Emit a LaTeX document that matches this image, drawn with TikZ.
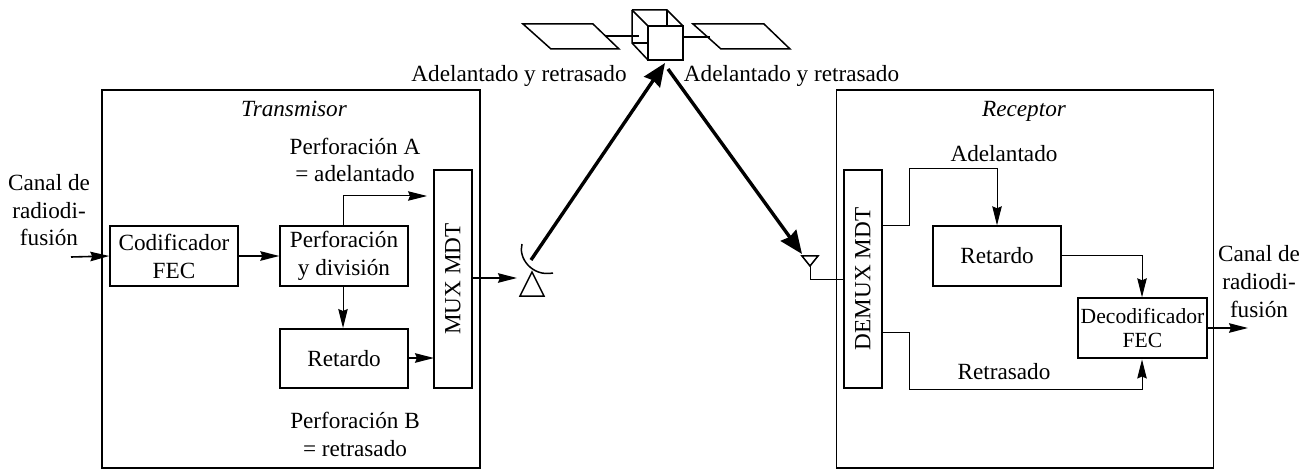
\documentclass[tikz,border=0pt]{standalone}
\usepackage{fontspec}
\setmainfont{Liberation Serif}
\usetikzlibrary{arrows.meta}
\tikzset{
 x=1pt,y=-1pt,
 blk/.style={draw,line width=1.4pt,inner sep=0pt,align=center,font=\fontsize{23.2}{28}\selectfont},
 lbl/.style={inner sep=0pt,align=center,anchor=base,font=\fontsize{23.2}{27.7}\selectfont},
 head/.style={-{Stealth[length=19pt,width=9.5pt,inset=2pt]}},
 conn/.style={line width=1pt,head},
 connb/.style={line width=1.6pt,head},
 thin wire/.style={line width=1pt},
 thick arrow/.style={line width=3.4pt,-{Stealth[length=23pt,width=19pt,inset=2pt]}},
 part/.style={line width=1.5pt}
}
\begin{document}
\begin{tikzpicture}
\useasboundingbox (0,0) rectangle (1312,473);
% outer boxes
\node[blk,minimum width=378pt,minimum height=378pt] (tx) at (291,279) {};
\node[blk,minimum width=377pt,minimum height=378pt] (rx) at (1025,279) {};
\node[lbl,font=\fontsize{23.2}{27}\selectfont\itshape] (txl) at (294,117) {Transmisor};
\node[lbl,font=\fontsize{23.2}{27}\selectfont\itshape] (rxl) at (1024,117) {Receptor};
% tx blocks
\node[blk,minimum width=128pt,minimum height=60pt] (fec) at (174,256) {Codificador\\FEC};
\node[blk,minimum width=128pt,minimum height=60pt] (per) at (344,256) {Perforación\\y división};
\node[blk,minimum width=128pt,minimum height=59pt] (ret) at (344,358.5) {Retardo};
\node[blk,minimum width=38pt,minimum height=218pt] (mux) at (453,279) {\rotatebox{90}{MUX MDT}};
% rx blocks
\node[blk,minimum width=38pt,minimum height=218pt] (dem) at (863,279) {\rotatebox{90}{DEMUX MDT}};
\node[blk,minimum width=128pt,minimum height=60pt] (ret2) at (997,256) {Retardo};
\node[blk,minimum width=129pt,minimum height=60pt,font=\fontsize{21.6}{24}\selectfont] (dec) at (1142.5,328) {Decodificador\\FEC};
% labels
\node[lbl] (a) at (355,182) {Perforación A\\= adelantado};
\node[lbl] (b) at (355,456) {Perforación B\\= retrasado};
\node[lbl] (c1) at (49,246) {Canal de\\radiodi-\\fusión};
\node[lbl] (c2) at (1259,317) {Canal de\\radiodi-\\fusión};
\node[lbl] (ad) at (1004,162) {Adelantado};
\node[lbl] (re) at (1004,379) {Retrasado};
\node[lbl] (ay1) at (519,82) {Adelantado y retrasado};
\node[lbl] (ay2) at (791.5,82) {Adelantado y retrasado};
% connectors
\coordinate (in) at (71,257);
\coordinate (out) at (1248,328);
\coordinate (muxa) at (427,196);
\coordinate (muxb) at (434,358);
\draw[connb] (in) -- (fec.west);
\draw[connb] (fec.east) -- (per.west);
\draw[conn] (per.south -| 343,286) -- (343,328);
\draw[connb] (ret.east |- muxb) -- (muxb);
\draw[conn] (343,226) -- (343,196) -- (muxa);
\draw[connb] (dec.east) -- (out);
\draw[conn] (882,226) -- (909,226) -- (909,169) -- (997,169) -- (ret2.north);
\draw[conn] (ret2.east) -- (1142,256) -- (dec.north -| 1142,298);
\draw[conn] (882,332) -- (909,332) -- (909,389) -- (1142,389) -- (1142,359.5);
% dish
\coordinate (dishin) at (517,278);
\draw[connb] (472,278) -- (dishin);
\draw[part] (532,272) -- (520,296) -- (544,296) -- cycle;
\draw[part] (522,244) .. controls (518,258) and (532,277) .. (553,273);
\coordinate (dishout) at (531,260);
% rx antenna
\draw[part] (802,256) -- (818,256) -- (810,266) -- cycle;
\draw[thin wire] (810,266) -- (810,279) -- (844,279);
% satellite
\draw[part] (523,24) -- (593,24) -- (619,49) -- (551,49) -- cycle;
\draw[part] (693,24) -- (764,24) -- (790,49) -- (721,49) -- cycle;
\draw[line width=2.6pt] (605,36) -- (639,36);
\draw[line width=2.6pt] (683,37) -- (710,37);
\draw[part] (632,10) -- (667,10) -- (683,26);
\draw[part] (632,10) -- (632,43) -- (648,60);
\draw[part] (632,10) -- (648,26);
\draw[part] (667,10) -- (667,26);
\draw[part] (632,43) -- (648,43);
\draw[part,fill=white] (648,26) rectangle (683,60);
\coordinate (up) at (665,63);
\coordinate (down) at (668,69);
\coordinate (rxant) at (802,254);
\draw[thick arrow] (dishout) -- (up);
\draw[thick arrow] (down) -- (rxant);
\end{tikzpicture}
\end{document}
